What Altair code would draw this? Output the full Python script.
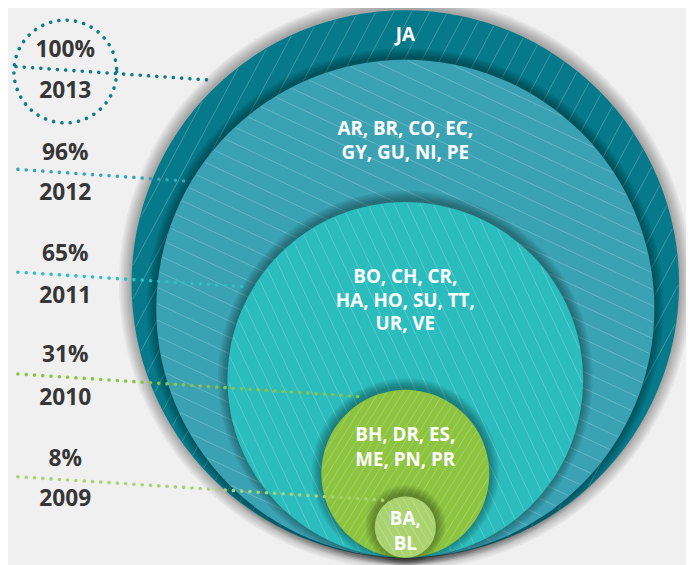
import altair as alt
import pandas as pd
import numpy as np

# ---- content ----
years = ["2013", "2012", "2011", "2010", "2009"]
percents = ["100%", "96%", "65%", "31%", "8%"]
countries = [
    ["JA"],
    ["AR, BR, CO, EC,", "GY, GU, NI, PE"],
    ["BO, CH, CR,", "HA, HO, SU, TT,", "UR, VE"],
    ["BH, DR, ES,", "ME, PN, PR"],
    ["BA,", "BL"],
]

# ---- styles ----
fill_colors = ["#067a8a", "#3aa2b3", "#2bbcbd", "#8cc43f", "#a9d36f"]
dot_colors = ["#0b7b8b", "#33a5b8", "#2cbfc6", "#8cc43f", "#a9d36f"]
text_dark = "#363636"

# ---- layout (reference pixel frame) ----
CX = 410
BOTTOM = 561
radii = [277, 252, 180, 85, 31]
label_first_y = [32, 127, 277, 437, 522]
label_gap = [0, 25, 24, 25, 25]
left_x = 66
pct_y = [47, 152, 254, 356, 461]
year_y = [89, 192, 296, 399, 502]
dot_x0 = [16, 18, 18, 18, 18]
dot_y0 = [64, 168, 272, 375, 479]
dot_x1 = [217, 190, 252, 367, 392]
dot_y1 = [78, 180, 287, 398, 503]
hatch_dir = [(0.47, -0.88), (0.9, 0.42), (0.42, 0.9), (0.53, -0.85), (0.5, 0.87)]
hatch_step = [16, 15, 12, 7, 7]

W, H = 686, 557
xs = alt.Scale(domain=[8, 8 + W], nice=False, zero=False)
ys = alt.Scale(domain=[8 + H, 8], nice=False, zero=False)

def X(f="x"):
    return alt.X(f"{f}:Q", scale=xs, axis=None)

def Y(f="y"):
    return alt.Y(f"{f}:Q", scale=ys, axis=None)

layers = []
for i in range(5):
    r = radii[i]
    cy = BOTTOM - r
    # soft shadow
    nk = 8 if i == 0 else 6
    sh = pd.DataFrame({
        "x": [CX] * nk,
        "y": [cy - (1 if i == 0 else 2)] * nk,
        "s": [(2 * (r + 1.6 * k)) ** 2 for k in range(nk, 0, -1)],
    })
    layers.append(
        alt.Chart(sh).mark_circle(color="#000000", opacity=0.045 if i == 0 else 0.06, strokeWidth=0)
        .encode(x=X(), y=Y(), size=alt.Size("s:Q", scale=None))
    )
    # the circle
    cdf = pd.DataFrame({"x": [CX], "y": [cy], "s": [(2 * r) ** 2]})
    layers.append(
        alt.Chart(cdf).mark_circle(color=fill_colors[i], opacity=1, strokeWidth=0)
        .encode(x=X(), y=Y(), size=alt.Size("s:Q", scale=None))
    )
    # hatch texture (chords clipped to circle)
    dx, dy = hatch_dir[i]
    n = np.hypot(dx, dy)
    dx, dy = dx / n, dy / n
    nx, ny = -dy, dx
    rin = r - 1.0
    offs = np.arange(-rin + hatch_step[i] / 2, rin, hatch_step[i])
    half = np.sqrt(np.maximum(rin ** 2 - offs ** 2, 0))
    hdf = pd.DataFrame({
        "x": CX + nx * offs - dx * half,
        "y": cy + ny * offs - dy * half,
        "x2": CX + nx * offs + dx * half,
        "y2": cy + ny * offs + dy * half,
    })
    layers.append(
        alt.Chart(hdf).mark_rule(color="#ffffff", opacity=0.22, strokeWidth=1)
        .encode(x=X(), y=Y(), x2="x2:Q", y2="y2:Q")
    )

# dotted leader lines
ddf = pd.DataFrame({"x": dot_x0, "y": dot_y0, "x2": dot_x1, "y2": dot_y1, "c": dot_colors})
layers.append(
    alt.Chart(ddf).mark_rule(strokeDash=[0.1, 8.3], strokeCap="round", strokeWidth=3.6)
    .encode(x=X(), y=Y(), x2="x2:Q", y2="y2:Q", color=alt.Color("c:N", scale=None))
)
# dotted ring around the 100% label
rdf = pd.DataFrame({"x": [left_x], "y": [69], "s": [104 ** 2]})
layers.append(
    alt.Chart(rdf).mark_point(shape="circle", filled=False, color=dot_colors[0], strokeWidth=3.6,
                              strokeDash=[0.1, 8.4], strokeCap="round", opacity=1)
    .encode(x=X(), y=Y(), size=alt.Size("s:Q", scale=None))
)

# left labels
ldf = pd.DataFrame({
    "x": [left_x] * 10,
    "y": pct_y + year_y,
    "t": percents + years,
})
layers.append(
    alt.Chart(ldf).mark_text(font="Open Sans", fontWeight="bold", fontSize=23, color=text_dark,
                             baseline="middle", align="center")
    .encode(x=X(), y=Y(), text="t:N")
)

# labels inside circles
rows = []
for i in range(5):
    for j, line in enumerate(countries[i]):
        rows.append({"x": CX, "y": label_first_y[i] + j * label_gap[i], "t": line})
tdf = pd.DataFrame(rows)
layers.append(
    alt.Chart(tdf).mark_text(font="Open Sans", fontWeight="bold", fontSize=19, color="#ffffff",
                             baseline="middle", align="center")
    .encode(x=X(), y=Y(), text="t:N")
)

chart = alt.layer(*layers).properties(
    width=W, height=H, background="#f0f0f0", padding=0,
    autosize=alt.AutoSizeParams(type="none"),
).configure_view(stroke=None)

chart.save("out.html", embed_options={"renderer": "svg", "actions": False})
